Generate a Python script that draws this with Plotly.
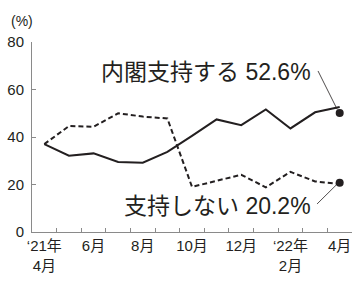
import plotly.graph_objects as go

months = ["2021-04", "2021-05", "2021-06", "2021-07", "2021-08", "2021-09", "2021-10",
          "2021-11", "2021-12", "2022-01", "2022-02", "2022-03", "2022-04"]
tick_text = ["‘21年<br>4月", "", "6月", "", "8月", "", "10月", "", "12月", "", "‘22年<br>2月", "", "4月"]

support = [37.0, 32.1, 33.1, 29.5, 29.2, 33.7, 40.5, 47.4, 45.0, 51.6, 43.6, 50.4, 52.6]
not_support = [37.0, 44.6, 44.3, 50.0, 48.6, 47.8, 19.0, 21.6, 24.1, 18.8, 25.3, 21.3, 20.2]

label_support = "内閣支持する 52.6%"
label_not = "支持しない 20.2%"

INK = "#231f20"
AXIS = "#8a8a8a"
FONT = "Liberation Sans, Noto Sans CJK JP, sans-serif"

fig = go.Figure()
fig.add_trace(go.Scatter(x=months, y=support, mode="lines",
                         line=dict(color=INK, width=2), showlegend=False))
fig.add_trace(go.Scatter(x=months, y=not_support, mode="lines",
                         line=dict(color=INK, width=2, dash="5px,3px"), showlegend=False))
fig.add_trace(go.Scatter(x=[months[-1], months[-1]], y=[support[-1] - 2.5, not_support[-1] + 0.5],
                         mode="markers", marker=dict(color=INK, size=8), showlegend=False))

# leader lines
fig.add_shape(type="line", xref="x", yref="y", x0=11.12, y0=67.8, x1=11.9, y1=support[-1] - 1.0,
              line=dict(color=INK, width=0.8))
fig.add_shape(type="line", xref="x", yref="y", x0=11.08, y0=11.8, x1=11.9, y1=not_support[-1],
              line=dict(color=INK, width=0.8))

fig.add_annotation(text=label_support, xref="paper", yref="y", x=0.879, y=67.4,
                   xanchor="right", yanchor="middle", showarrow=False,
                   font=dict(family=FONT, size=23, color=INK))
fig.add_annotation(text=label_not, xref="paper", yref="y", x=0.879, y=11.0,
                   xanchor="right", yanchor="middle", showarrow=False,
                   font=dict(family=FONT, size=23, color=INK))
fig.add_annotation(text="(%)", xref="paper", yref="paper", x=-0.031, y=1.11,
                   xanchor="center", yanchor="middle", showarrow=False,
                   font=dict(family=FONT, size=14, color=INK))

fig.update_layout(
    width=355, height=283,
    margin=dict(l=32, r=3, t=42, b=51),
    paper_bgcolor="white", plot_bgcolor="white",
    font=dict(family=FONT, size=15, color=INK),
    xaxis=dict(type="category", categoryorder="array", categoryarray=months,
               tickmode="array", tickvals=months, ticktext=tick_text,
               tickson="boundaries", ticks="inside", ticklen=4, tickcolor=AXIS,
               showline=True, linecolor=AXIS, linewidth=1, showgrid=False,
               zeroline=False, range=[-0.5, 12.5], tickangle=0, automargin=False,
               tickfont=dict(size=15, color=INK)),
    yaxis=dict(range=[0, 80], tickvals=[0, 20, 40, 60, 80], ticks="inside", ticklen=4,
               tickcolor=AXIS, showline=True, linecolor=AXIS, linewidth=1, automargin=False,
               ticklabelstandoff=4,
               showgrid=False, zeroline=False, tickfont=dict(size=15, color=INK)),
)

fig.write_html("out.html", config={"displayModeBar": False},
               post_script="document.body.style.margin='0';")
